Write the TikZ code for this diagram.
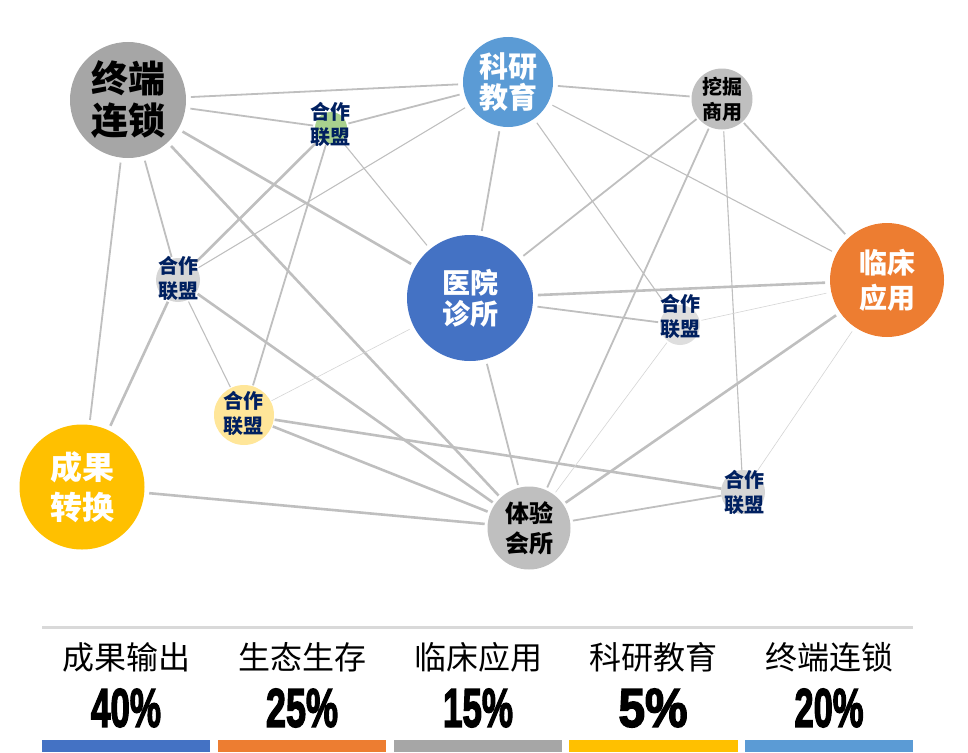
\documentclass[tikz,border=0pt]{standalone}
\usepackage{fontspec}
\usepackage{color}
\setmainfont{Noto Sans CJK SC}
\newfontfamily\pctfont{Liberation Sans}[BoldFeatures={FakeBold=3}]
\definecolor{hubblue}{HTML}{4472C4}
\definecolor{hubsky}{HTML}{5B9BD5}
\definecolor{huborange}{HTML}{ED7D31}
\definecolor{hubgold}{HTML}{FFC000}
\definecolor{hubgray}{HTML}{A6A6A6}
\definecolor{hubsilver}{HTML}{BFBFBF}
\definecolor{linkgray}{HTML}{BFBFBF}
\definecolor{faintgray}{HTML}{D4D4D4}
\definecolor{rulegray}{HTML}{D9D9D9}
\definecolor{navy}{HTML}{002060}
\definecolor{allygreen}{HTML}{A9D18E}
\definecolor{allycream}{HTML}{FFE699}
\definecolor{allygray}{HTML}{D6D6D6}

\begin{document}
\begin{tikzpicture}[x=1pt, y=-1pt,
    hub/.style={circle, inner sep=0pt, outer sep=5pt, align=center, text=white},
    allydot/.style={circle, inner sep=0pt, outer sep=2pt},
    ally/.style={align=center, inner sep=0pt, text=navy,
      font=\fontsize{20}{25}\selectfont\bfseries},
    link/.style={color=linkgray, line width=1.8pt},
    legendcap/.style={font=\fontsize{32}{36}\selectfont},
    pct/.style={inner sep=0pt, font=\pctfont\bfseries}]
    \useasboundingbox (0,0) rectangle (968,752);

    % hubs
    \node[hub, fill=hubgray, minimum size=116pt, text=black,
      font=\fontsize{37}{42}\selectfont\bfseries] (zd) at (128,100) {终端\\连锁};
    \node[hub, fill=hubsky, minimum size=90pt,
      font=\fontsize{29}{31}\selectfont\bfseries] (ky) at (508,82) {科研\\教育};
    \node[hub, fill=hubsilver, minimum size=61pt, text=black, outer sep=2pt,
      font=\fontsize{20}{25}\selectfont\bfseries] (wj) at (722,99) {挖掘\\商用};
    \node[hub, fill=huborange, minimum size=114pt,
      font=\fontsize{28}{35}\selectfont\bfseries] (lc) at (887,280) {临床\\应用};
    \node[hub, fill=hubblue, minimum size=126pt,
      font=\fontsize{28}{31}\selectfont\bfseries] (yy) at (470,298) {医院\\诊所};
    \node[hub, fill=hubgold, minimum size=125pt,
      font=\fontsize{32}{40}\selectfont\bfseries] (cg) at (82,487) {成果\\转换};
    \node[hub, fill=hubsilver, minimum size=83pt, text=black, outer sep=3pt,
      font=\fontsize{24}{30}\selectfont\bfseries] (ty) at (529,528) {体验\\会所};

    % alliances
    \node[allydot, fill=allygreen, minimum size=32pt] (h1) at (331,128) {};
    \node[allydot, fill=allygray, minimum size=44pt] (h2) at (178,280) {};
    \node[allydot, fill=allycream, minimum size=60pt, outer sep=1pt] (h3) at (244,415) {};
    \node[allydot, fill=allygray!80, minimum size=40pt] (h4) at (680,325) {};
    \node[allydot, fill=allygray, minimum size=44pt, outer sep=0pt] (h5) at (743,492) {};

    % links
    \path[link, line width=2.6pt]
      (zd) edge (yy)
           edge (ty)
      (h2) edge (ty)
           edge (cg)
      (h1) edge (h2)
      (yy) edge (lc)
      (lc) edge (ty)
      (cg) edge (ty)
      (h3) edge (ty)
           edge (h5);
    \path[link]
      (zd) edge (ky)
           edge (h1)
           edge (h2)
           edge (cg)
      (h1) edge (ky)
           edge (h3)
      (ky) edge (wj)
           edge (yy)
      (wj) edge (ty)
           edge (lc)
           edge (yy)
      (ty) edge (h5)
      (yy) edge (ty)
           edge (h4);
    \path[link, line width=1.1pt]
      (h1) edge (yy)
      (ky) edge (h4)
           edge (lc)
           edge (h2)
      (wj) edge (h5)
      (h2) edge (h3);
    \path[link, color=faintgray, line width=0.6pt]
      (h3) edge (yy)
      (h4) edge (ty)
           edge (lc)
      (lc) edge (h5);

    \node[ally] (h1t) at (330,124) {合作\\联盟};
    \node[ally] (h2t) at (178,278) {合作\\联盟};
    \node[ally] (h3t) at (243,413) {合作\\联盟};
    \node[ally] (h4t) at (680,316) {合作\\联盟};
    \node[ally] (h5t) at (744,492) {合作\\联盟};

    % legend
    \draw[color=rulegray, line width=3pt] (42,627) -- (913,627);
    \node[legendcap] (c1) at (126,657) {成果输出};
    \node[legendcap] (c2) at (302,657) {生态生存};
    \node[legendcap] (c3) at (478,657) {临床应用};
    \node[legendcap] (c4) at (653,657) {科研教育};
    \node[legendcap] (c5) at (829,657) {终端连锁};
    \node[pct] (p1) at (126,708) {\resizebox{70pt}{38pt}{40\%}};
    \node[pct] (p2) at (302,708) {\resizebox{72pt}{38pt}{25\%}};
    \node[pct] (p3) at (478,708) {\resizebox{70pt}{38pt}{15\%}};
    \node[pct] (p4) at (653,708) {\resizebox{69pt}{38pt}{5\%}};
    \node[pct] (p5) at (829,708) {\resizebox{69pt}{38pt}{20\%}};
    \fill[hubblue] (42,740) rectangle (210,752);
    \fill[huborange] (218,740) rectangle (386,752);
    \fill[hubgray] (394,740) rectangle (562,752);
    \fill[hubgold] (569,740) rectangle (738,752);
    \fill[hubsky] (745,740) rectangle (913,752);
\end{tikzpicture}
\end{document}
